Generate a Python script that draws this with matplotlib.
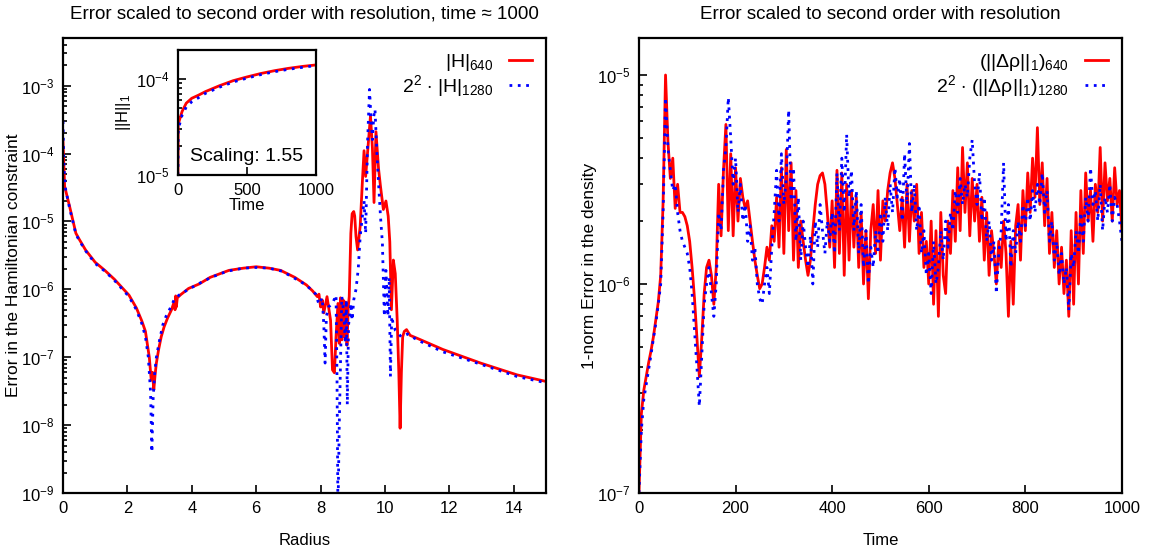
import matplotlib
matplotlib.use("Agg")
import matplotlib.pyplot as plt
import numpy as np
from matplotlib.ticker import LogLocator, NullFormatter

plt.rcParams["font.family"] = ["Liberation Sans", "DejaVu Sans"]
plt.rcParams["mathtext.fontset"] = "custom"
plt.rcParams["mathtext.rm"] = "Liberation Sans"
plt.rcParams["mathtext.it"] = "Liberation Sans"
plt.rcParams["mathtext.bf"] = "Liberation Sans:bold"

# -------------------------------
# Left panel: Hamiltonian constraint vs radius
# -------------------------------
radius_640 = [0.0, 0.05, 0.2, 0.4, 0.5, 0.7, 1.0, 1.3, 1.6, 2.05, 2.28, 2.45, 2.56, 2.68,
              2.74, 2.78, 2.82, 2.86, 2.9, 2.97, 3.05, 3.14, 3.25, 3.37, 3.45, 3.48, 3.5,
              3.52, 3.55, 3.65, 3.9, 4.23, 4.57, 5.15, 5.6, 6.0, 6.4, 6.76, 7.2, 7.56, 7.75,
              7.9, 7.95, 8.0, 8.05, 8.1, 8.2, 8.31, 8.37, 8.43, 8.48, 8.54, 8.58, 8.62, 8.66,
              8.7, 8.74, 8.78, 8.82, 8.86, 8.89, 8.94, 8.98, 9.03, 9.06, 9.1, 9.15, 9.23, 9.3,
              9.35, 9.4, 9.47, 9.55, 9.61, 9.66, 9.72, 9.8, 9.86, 9.95, 10.03, 10.1, 10.15,
              10.2, 10.26, 10.32, 10.38, 10.43, 10.47, 10.51, 10.55, 10.6, 10.67, 10.78, 11.0,
              11.8, 12.97, 14.1, 15.0]
ham_640 = [1.5e-4, 3.3e-5, 1.7e-5, 6.7e-6, 5.5e-6, 3.8e-6, 2.5e-6, 1.9e-6, 1.4e-6, 8.2e-7,
           5.3e-7, 3.4e-7, 2.4e-7, 1.0e-7, 4.6e-8, 6.0e-8, 3.3e-8, 5.5e-8, 8.2e-8, 1.3e-7,
           2.0e-7, 2.8e-7, 3.8e-7, 5.0e-7, 6.5e-7, 5.0e-7, 8.0e-7, 5.5e-7, 7.5e-7, 8.3e-7,
           1.03e-6, 1.2e-6, 1.5e-6, 1.9e-6, 2.05e-6, 2.15e-6, 2.05e-6, 1.9e-6, 1.5e-6, 1.16e-6,
           9.5e-7, 7.8e-7, 8.5e-7, 5.5e-7, 7.0e-7, 4.5e-7, 7.8e-7, 3.5e-7, 6.5e-8, 5.9e-8,
           2.0e-7, 6.2e-7, 1.6e-7, 7.5e-7, 1.8e-7, 7.0e-7, 2.0e-7, 6.5e-7, 1.5e-7, 5.5e-7,
           7.8e-7, 6.7e-6, 1.3e-5, 1.4e-5, 1.2e-5, 6.0e-6, 3.8e-6, 8.5e-6, 4.0e-5, 1.1e-4,
           4.6e-5, 1.2e-4, 3.6e-4, 1.2e-4, 1.9e-5, 2.1e-4, 6.0e-5, 3.3e-5, 1.5e-5, 2.0e-5,
           1.2e-5, 5.0e-6, 5.0e-7, 2.7e-6, 1.7e-6, 3.5e-7, 6.0e-8, 9.0e-9, 6.0e-8, 2.0e-7,
           2.4e-7, 2.55e-7, 2.1e-7, 1.9e-7, 1.3e-7, 8.2e-8, 5.5e-8, 4.4e-8]

radius_1280 = [0.0, 0.03, 0.08, 0.2, 0.4, 0.5, 0.7, 1.0, 1.3, 1.6, 2.05, 2.28, 2.45, 2.56,
               2.65, 2.72, 2.76, 2.8, 2.85, 2.9, 3.0, 3.1, 3.2, 3.35, 3.45, 3.6, 3.9, 4.2, 4.6,
               5.1, 5.6, 6.0, 6.4, 6.8, 7.2, 7.5, 7.7, 7.85, 7.95, 8.05, 8.1, 8.14, 8.18, 8.25,
               8.37, 8.48, 8.51, 8.54, 8.58, 8.66, 8.72, 8.77, 8.8, 8.83, 8.87, 8.94, 8.98,
               9.03, 9.1, 9.17, 9.23, 9.3, 9.35, 9.4, 9.46, 9.52, 9.57, 9.61, 9.65, 9.69, 9.75,
               9.8, 9.86, 9.92, 9.98, 10.03, 10.09, 10.13, 10.17, 10.21, 10.26, 10.32, 10.4,
               10.5, 10.7, 11.0, 11.8, 13.0, 14.1, 15.0]
ham_1280 = [3.0e-4, 6.0e-5, 3.0e-5, 1.6e-5, 6.5e-6, 5.3e-6, 3.7e-6, 2.4e-6, 1.85e-6, 1.35e-6,
            7.8e-7, 5.0e-7, 3.1e-7, 2.0e-7, 1.0e-7, 3.0e-8, 4.0e-9, 2.5e-8, 6.0e-8, 1.0e-7,
            1.8e-7, 3.0e-7, 4.0e-7, 5.5e-7, 7.0e-7, 8.2e-7, 1.0e-6, 1.2e-6, 1.5e-6, 1.85e-6,
            2.05e-6, 2.1e-6, 2.05e-6, 1.85e-6, 1.45e-6, 1.2e-6, 1.0e-6, 8.5e-7, 6.0e-7, 7.5e-7,
            3.0e-7, 8.2e-8, 4.0e-7, 5.5e-7, 6.2e-7, 8.2e-7, 5.0e-8, 5.0e-10, 1.0e-8, 7.8e-7,
            4.5e-7, 1.6e-7, 7.0e-7, 2.0e-8, 3.0e-7, 6.2e-7, 3.5e-7, 7.0e-7, 1.0e-6, 2.0e-6,
            6.0e-6, 1.2e-5, 2.0e-5, 6.7e-6, 1.5e-4, 8.8e-4, 3.0e-4, 1.6e-4, 3.5e-4, 4.5e-4,
            1.0e-4, 3.7e-5, 1.2e-5, 4.8e-6, 4.0e-7, 1.9e-6, 4.0e-7, 1.5e-6, 5.2e-8, 4.0e-7,
            3.0e-7, 2.5e-7, 2.3e-7, 2.0e-7, 2.2e-7, 1.8e-7, 1.2e-7, 7.8e-8, 5.2e-8, 4.2e-8]

# Inset: 1-norm of H over time
inset_time = [0, 2, 10, 30, 60, 100, 150, 200, 300, 400, 500, 600, 700, 800, 900, 1000]
inset_640 = [1.0e-5, 3.3e-5, 3.7e-5, 4.6e-5, 5.6e-5, 6.3e-5, 6.8e-5, 7.4e-5, 8.5e-5, 9.6e-5,
             1.05e-4, 1.14e-4, 1.22e-4, 1.29e-4, 1.35e-4, 1.40e-4]
inset_1280 = [1.0e-5, 2.8e-5, 3.3e-5, 4.2e-5, 5.1e-5, 5.8e-5, 6.4e-5, 7.1e-5, 8.2e-5, 9.3e-5,
              1.02e-4, 1.11e-4, 1.19e-4, 1.26e-4, 1.32e-4, 1.38e-4]

# -------------------------------
# Right panel: density error vs time (sampled every 5 time units)
# -------------------------------
time_vals = np.arange(0, 1001, 5)
rho_640 = [
    1.0e-7, 2.4e-7, 3.1e-7, 3.6e-7, 4.2e-7, 4.8e-7, 5.6e-7, 6.8e-7, 8.2e-7, 1.1e-6,
    2.5e-6, 1.0e-5, 4.8e-6, 3.2e-6, 4.0e-6, 2.3e-6, 3.0e-6, 2.2e-6, 2.2e-6, 2.1e-6,
    1.9e-6, 1.6e-6, 1.2e-6, 8.5e-7, 5.5e-7, 3.6e-7, 5.5e-7, 9.0e-7, 1.2e-6, 1.3e-6,
    1.1e-6, 8.0e-7, 1.2e-6, 3.0e-6, 1.7e-6, 3.5e-6, 5.8e-6, 1.8e-6, 4.2e-6, 1.7e-6,
    3.6e-6, 2.0e-6, 3.2e-6, 2.6e-6, 2.3e-6, 2.5e-6, 2.0e-6, 1.6e-6, 1.3e-6, 1.1e-6,
    9.5e-7, 1.0e-6, 1.2e-6, 1.5e-6, 1.3e-6, 1.9e-6, 1.6e-6, 2.6e-6, 1.5e-6, 3.6e-6,
    1.4e-6, 4.4e-6, 1.8e-6, 3.8e-6, 1.3e-6, 2.8e-6, 1.2e-6, 2.0e-6, 1.6e-6, 1.3e-6,
    1.1e-6, 1.3e-6, 1.8e-6, 2.4e-6, 3.0e-6, 3.3e-6, 3.4e-6, 3.0e-6, 2.2e-6, 1.5e-6,
    2.5e-6, 1.2e-6, 3.5e-6, 1.4e-6, 3.4e-6, 1.1e-6, 3.0e-6, 1.3e-6, 2.8e-6, 1.5e-6,
    2.6e-6, 1.2e-6, 2.2e-6, 1.0e-6, 1.8e-6, 8.5e-7, 1.8e-6, 2.4e-6, 1.4e-6, 2.8e-6,
    1.3e-6, 2.5e-6, 2.0e-6, 2.8e-6, 3.4e-6, 3.8e-6, 3.2e-6, 2.4e-6, 1.8e-6, 2.6e-6,
    1.5e-6, 3.0e-6, 1.6e-6, 2.8e-6, 2.0e-6, 3.0e-6, 1.4e-6, 2.2e-6, 1.2e-6, 1.6e-6,
    1.0e-6, 2.0e-6, 8.0e-7, 1.8e-6, 7.0e-7, 2.2e-6, 1.1e-6, 9.0e-7, 2.0e-6, 1.4e-6,
    2.8e-6, 1.6e-6, 3.6e-6, 1.8e-6, 4.5e-6, 2.2e-6, 3.8e-6, 1.7e-6, 3.2e-6, 2.0e-6,
    3.0e-6, 1.6e-6, 2.6e-6, 1.3e-6, 2.2e-6, 1.1e-6, 1.8e-6, 1.4e-6, 1.0e-6, 1.6e-6,
    1.2e-6, 2.0e-6, 1.4e-6, 7.0e-7, 1.6e-6, 8.0e-7, 1.9e-6, 2.4e-6, 1.3e-6, 2.8e-6,
    1.8e-6, 3.4e-6, 2.2e-6, 4.0e-6, 2.6e-6, 5.6e-6, 2.4e-6, 3.8e-6, 1.9e-6, 3.2e-6,
    1.4e-6, 2.2e-6, 1.2e-6, 1.8e-6, 1.0e-6, 1.5e-6, 9.0e-7, 1.3e-6, 7.0e-7, 1.8e-6,
    8.0e-7, 2.2e-6, 1.0e-6, 2.8e-6, 1.4e-6, 3.4e-6, 2.0e-6, 2.8e-6, 1.6e-6, 3.0e-6,
    2.2e-6, 4.5e-6, 2.0e-6, 3.8e-6, 2.5e-6, 3.2e-6, 2.0e-6, 3.6e-6, 2.4e-6, 2.8e-6,
    1.8e-6]
rho_1280 = [
    1.0e-7, 2.0e-7, 2.8e-7, 3.3e-7, 3.9e-7, 4.6e-7, 5.5e-7, 6.5e-7, 8.0e-7, 1.0e-6,
    2.2e-6, 7.8e-6, 4.5e-6, 3.5e-6, 2.8e-6, 3.0e-6, 2.2e-6, 1.8e-6, 1.6e-6, 1.5e-6,
    1.4e-6, 1.2e-6, 9.0e-7, 6.0e-7, 4.0e-7, 2.6e-7, 4.5e-7, 8.0e-7, 1.0e-6, 1.2e-6,
    9.0e-7, 7.0e-7, 1.0e-6, 2.2e-6, 1.8e-6, 3.5e-6, 4.5e-6, 7.8e-6, 5.0e-6, 3.0e-6,
    4.0e-6, 2.2e-6, 3.0e-6, 2.0e-6, 2.4e-6, 1.6e-6, 1.9e-6, 1.3e-6, 1.5e-6, 1.0e-6,
    8.5e-7, 8.0e-7, 1.0e-6, 1.2e-6, 9.0e-7, 1.5e-6, 2.2e-6, 3.5e-6, 2.0e-6, 4.2e-6,
    2.4e-6, 3.2e-6, 6.8e-6, 2.5e-6, 3.6e-6, 1.6e-6, 2.6e-6, 1.3e-6, 2.0e-6, 1.5e-6,
    1.2e-6, 1.7e-6, 1.0e-6, 2.0e-6, 1.5e-6, 2.4e-6, 1.8e-6, 1.4e-6, 2.0e-6, 1.6e-6,
    2.2e-6, 1.4e-6, 3.4e-6, 1.8e-6, 4.0e-6, 2.2e-6, 5.2e-6, 2.6e-6, 3.5e-6, 1.8e-6,
    2.8e-6, 1.4e-6, 2.4e-6, 1.2e-6, 1.8e-6, 1.0e-6, 1.5e-6, 1.2e-6, 1.8e-6, 1.4e-6,
    2.2e-6, 1.6e-6, 2.6e-6, 1.8e-6, 3.0e-6, 2.2e-6, 3.6e-6, 2.6e-6, 3.2e-6, 2.0e-6,
    4.2e-6, 2.4e-6, 4.7e-6, 2.2e-6, 3.0e-6, 1.8e-6, 2.4e-6, 1.4e-6, 1.8e-6, 1.1e-6,
    1.4e-6, 9.0e-7, 1.6e-6, 1.0e-6, 1.2e-6, 1.8e-6, 1.3e-6, 2.0e-6, 1.5e-6, 2.2e-6,
    1.8e-6, 2.8e-6, 2.2e-6, 3.2e-6, 2.4e-6, 3.0e-6, 2.6e-6, 4.0e-6, 4.9e-6, 3.0e-6,
    2.4e-6, 3.4e-6, 2.0e-6, 2.6e-6, 1.6e-6, 2.0e-6, 1.3e-6, 1.6e-6, 9.0e-7, 1.4e-6,
    1.8e-6, 3.8e-6, 1.6e-6, 2.4e-6, 1.2e-6, 1.8e-6, 1.4e-6, 2.0e-6, 1.6e-6, 2.4e-6,
    1.9e-6, 2.6e-6, 2.0e-6, 2.8e-6, 2.2e-6, 3.0e-6, 2.4e-6, 3.4e-6, 2.2e-6, 2.8e-6,
    1.6e-6, 2.0e-6, 1.3e-6, 1.6e-6, 1.1e-6, 1.4e-6, 1.0e-6, 1.2e-6, 7.5e-7, 1.4e-6,
    1.2e-6, 1.8e-6, 1.4e-6, 2.2e-6, 1.6e-6, 2.6e-6, 2.0e-6, 3.6e-6, 2.4e-6, 2.8e-6,
    2.0e-6, 3.0e-6, 1.8e-6, 2.6e-6, 2.2e-6, 3.0e-6, 2.0e-6, 2.6e-6, 2.4e-6, 2.0e-6,
    1.6e-6]

RED = "#ff0000"
BLUE = "#0000ff"
DOTS = (0, (1, 2))


def style_axis(ax, fs=12):
    ax.tick_params(which="both", direction="in", top=False, right=False, labelsize=fs, width=1.2)
    ax.tick_params(which="major", length=6, pad=6)
    ax.tick_params(which="minor", length=2.8)
    for sp in ax.spines.values():
        sp.set_linewidth(1.6)
    ax.yaxis.set_minor_locator(LogLocator(base=10, subs=np.arange(2, 10), numticks=20))
    ax.yaxis.set_minor_formatter(NullFormatter())


fig = plt.figure(figsize=(11.54, 5.56), dpi=100)

# Left panel
ax1 = fig.add_axes([0.0546, 0.1133, 0.4185, 0.818])
ax1.plot(radius_640, ham_640, color=RED, lw=2.0, label=r"$|H|_{640}$")
ax1.plot(radius_1280, ham_1280, color=BLUE, lw=2.0, ls=DOTS,
         label=r"$2^2$ $\cdot$ $|H|_{1280}$")
ax1.set_yscale("log")
ax1.set_xlim(0, 15)
ax1.set_ylim(1e-9, 5e-3)
ax1.set_xticks(np.arange(0, 15, 2))
style_axis(ax1)
ax1.set_xlabel("Radius", fontsize=12, labelpad=12)
ax1.set_ylabel("Error in the Hamiltonian constraint", fontsize=12.5)
ax1.yaxis.set_label_coords(-0.087, 0.5)
ax1.set_title("Error scaled to second order with resolution, time \u2248 1000", fontsize=13.5, pad=14)
ax1.legend(loc="upper right", frameon=False, markerfirst=False, fontsize=14,
           handlelength=1.2, labelspacing=0.0, borderaxespad=0.3, handletextpad=0.8)

# Inset
axi = fig.add_axes([0.1542, 0.685, 0.1196, 0.225])
axi.plot(inset_time, inset_640, color=RED, lw=2.0)
axi.plot(inset_time, inset_1280, color=BLUE, lw=2.0, ls=DOTS)
axi.set_yscale("log")
axi.set_xlim(0, 1000)
axi.set_ylim(1e-5, 2e-4)
axi.set_xticks([0, 500, 1000])
style_axis(axi)
axi.set_xlabel("Time", fontsize=12, labelpad=0)
axi.set_ylabel(r"$||H||_1$", fontsize=12, labelpad=2)
axi.text(0.5, 0.08, "Scaling: 1.55", transform=axi.transAxes, ha="center", va="bottom", fontsize=14)

# Right panel
ax2 = fig.add_axes([0.5537, 0.1133, 0.4185, 0.818])
ax2.plot(time_vals, rho_640, color=RED, lw=2.0, label=r"$(||\Delta\rho||_1)_{640}$")
ax2.plot(time_vals, rho_1280, color=BLUE, lw=2.0, ls=DOTS,
         label=r"$2^2$ $\cdot$ $(||\Delta\rho||_1)_{1280}$")
ax2.set_yscale("log")
ax2.set_xlim(0, 1000)
ax2.set_ylim(1e-7, 1.5e-5)
ax2.set_xticks(np.arange(0, 1001, 200))
style_axis(ax2)
ax2.set_xlabel("Time", fontsize=12, labelpad=12)
ax2.set_ylabel("1-norm Error in the density", fontsize=12.5)
ax2.yaxis.set_label_coords(-0.087, 0.5)
ax2.set_title("Error scaled to second order with resolution", fontsize=13.5, pad=14)
ax2.legend(loc="upper right", frameon=False, markerfirst=False, fontsize=14,
           handlelength=1.2, labelspacing=0.0, borderaxespad=0.3, handletextpad=0.8)

fig.savefig("out.png", dpi=100)
